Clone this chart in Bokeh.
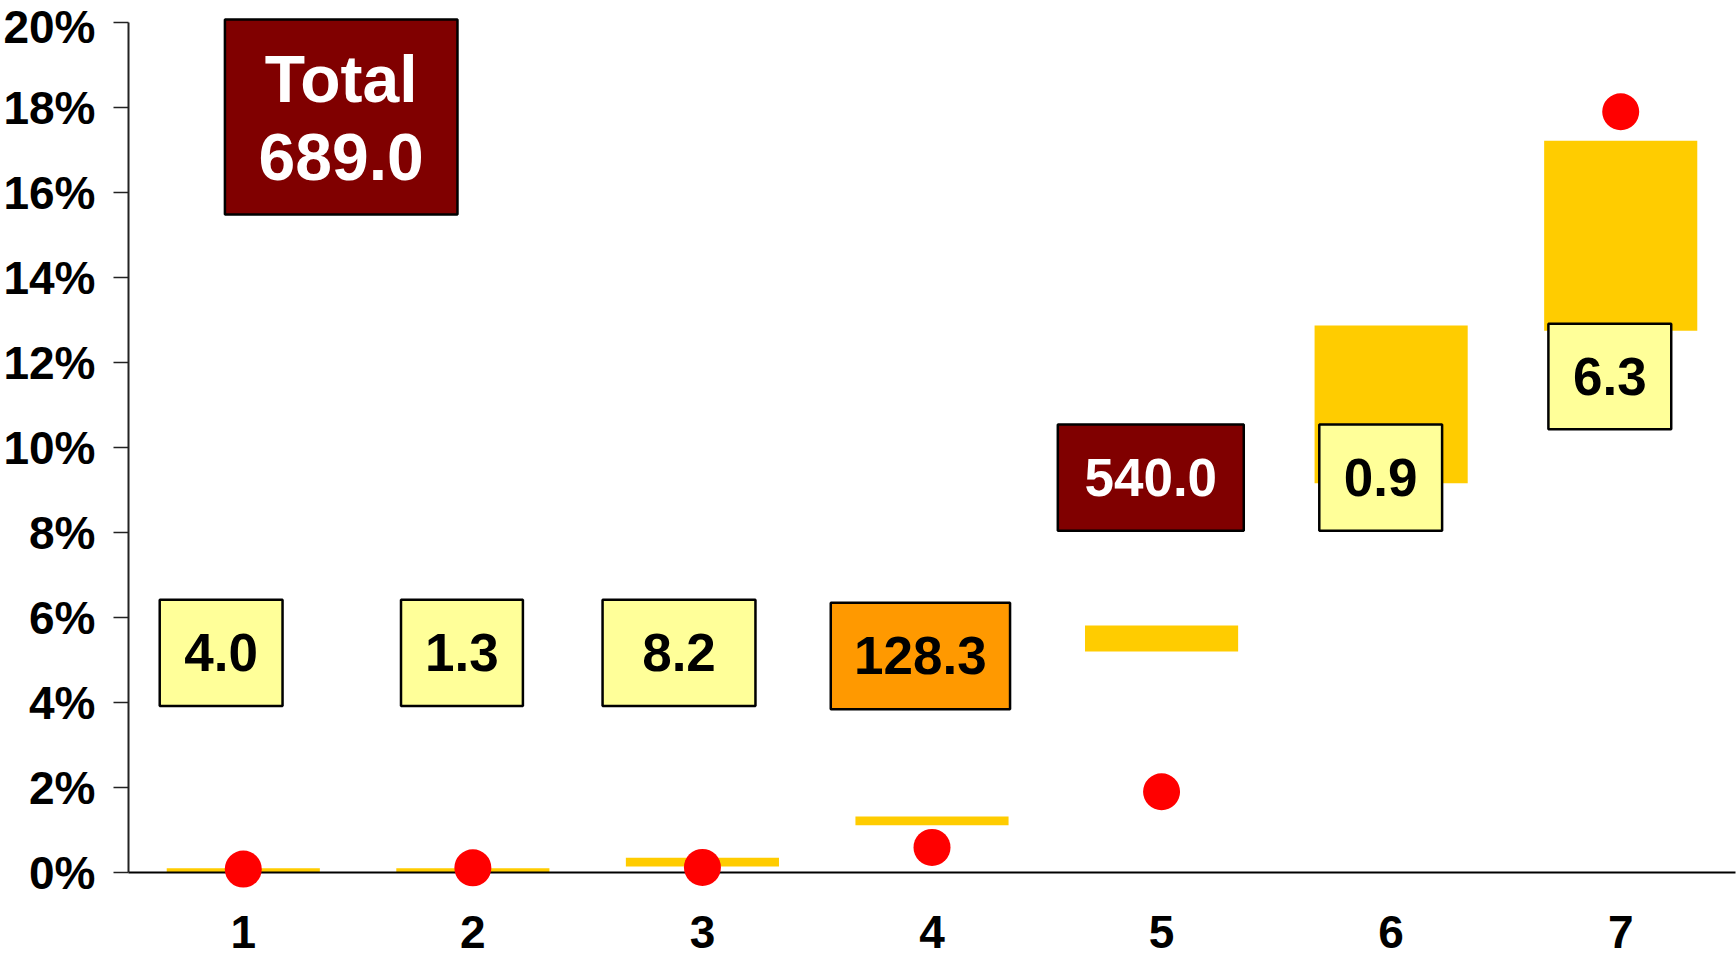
from bokeh.plotting import figure
from bokeh.models import ColumnDataSource, FixedTicker, PrintfTickFormatter, Range1d
from bokeh.core.properties import value
from bokeh.embed import file_html
from bokeh.resources import INLINE

# ---------------- data ----------------
categories = [1, 2, 3, 4, 5, 6, 7]
range_low = [0.0, 0.0, 0.14, 1.11, 5.20, 9.16, 12.75]     # % (yellow bar bottom)
range_high = [0.10, 0.10, 0.35, 1.32, 5.81, 12.87, 17.22]  # % (yellow bar top)
point_values = [0.08, 0.11, 0.12, 0.59, 1.90, None, 17.90]  # % (red dots)
label_values = [4.0, 1.3, 8.2, 128.3, 540.0, 0.9, 6.3]
label_kinds = ["small", "small", "small", "medium", "large", "small", "small"]
total_value = 689.0
y_ticks = [0, 2, 4, 6, 8, 10, 12, 14, 16, 18, 20]

# ---------------- layout of the label boxes (data coordinates) ----------------
box_left = [0.636, 1.687, 2.565, 3.559, 4.548, 5.687, 6.685]
box_right = [1.171, 2.218, 3.231, 4.340, 5.358, 6.222, 7.220]
box_top = [6.42, 6.42, 6.42, 6.35, 10.54, 10.54, 12.91]
box_bottom = [3.92, 3.92, 3.92, 3.84, 8.04, 8.04, 10.43]
total_left, total_right, total_top, total_bottom = 0.920, 1.933, 20.07, 15.48

FONT = value("Liberation Sans")
fill_map = {"small": "#FFFF99", "medium": "#FF9900", "large": "#800000"}
text_map = {"small": "#000000", "medium": "#000000", "large": "#FFFFFF"}

p = figure(width=1736, height=958, output_backend="svg", toolbar_location=None,
           x_range=Range1d(0.5, 7.5), y_range=Range1d(0, 20),
           min_border_left=128, min_border_right=1, min_border_top=22, min_border_bottom=86)
p.outline_line_color = None
p.background_fill_color = "white"

# axes
p.xaxis.ticker = FixedTicker(ticks=categories)
p.xaxis.major_tick_out = 0
p.xaxis.major_tick_in = 0
p.xaxis.minor_tick_line_color = None
p.xaxis.axis_line_color = "#000000"
p.xaxis.axis_line_width = 2
p.xaxis.major_label_standoff = 43
p.xaxis.major_label_text_font = "Liberation Sans"
p.xaxis.major_label_text_font_style = "bold"
p.xaxis.major_label_text_font_size = "46px"
p.xaxis.major_label_text_color = "#000000"

p.yaxis.ticker = FixedTicker(ticks=y_ticks)
p.yaxis.formatter = PrintfTickFormatter(format="%d%%")
p.yaxis.major_tick_out = 15
p.yaxis.major_tick_in = 0
p.yaxis.major_tick_line_width = 1.5
p.yaxis.major_tick_line_color = "#222222"
p.yaxis.minor_tick_line_color = None
p.yaxis.axis_line_color = "#222222"
p.yaxis.axis_line_width = 2
p.yaxis.major_label_standoff = 18
p.yaxis.major_label_text_font = "Liberation Sans"
p.yaxis.major_label_text_font_style = "bold"
p.yaxis.major_label_text_font_size = "46px"
p.yaxis.major_label_text_color = "#000000"

p.xgrid.grid_line_color = None
p.ygrid.ticker = FixedTicker(ticks=[20])
p.ygrid.grid_line_color = "#8c8c8c"
p.ygrid.grid_line_width = 1.5

# yellow range bars
bars = ColumnDataSource(dict(x=categories, bottom=range_low, top=range_high))
p.vbar(x="x", bottom="bottom", top="top", width=0.667, source=bars,
       fill_color="#FFCC00", line_color=None)

# red dots
px = [c for c, v in zip(categories, point_values) if v is not None]
py = [v for v in point_values if v is not None]
dots = p.scatter(px, py, size=37, fill_color="#FF0000", line_color=None)
dots.level = "overlay"

# label boxes
boxes = ColumnDataSource(dict(
    left=box_left, right=box_right, top=box_top, bottom=box_bottom,
    cx=[(a + b) / 2 for a, b in zip(box_left, box_right)],
    cy=[(a + b) / 2 for a, b in zip(box_top, box_bottom)],
    text=["%.1f" % v for v in label_values],
    fill=[fill_map[k] for k in label_kinds],
    tcol=[text_map[k] for k in label_kinds],
))
p.quad(left="left", right="right", top="top", bottom="bottom", source=boxes,
       fill_color="fill", line_color="#000000", line_width=2.5)
p.text(x="cx", y="cy", text="text", source=boxes, text_color="tcol",
       text_font=FONT, text_font_style="bold", text_font_size="53px",
       text_align="center", text_baseline="middle")

# total box
tb = p.quad(left=[total_left], right=[total_right], top=[total_top], bottom=[total_bottom],
            fill_color="#800000", line_color="#000000", line_width=2.5)
tb.level = "overlay"
tcx = (total_left + total_right) / 2
tcy = (total_top + total_bottom) / 2
t1 = p.text(x=[tcx], y=[tcy], text=["Total"], y_offset=-38, text_color="#FFFFFF",
            text_font=FONT, text_font_style="bold", text_font_size="66px",
            text_align="center", text_baseline="middle")
t2 = p.text(x=[tcx], y=[tcy], text=["%.1f" % total_value], y_offset=40, text_color="#FFFFFF",
            text_font=FONT, text_font_style="bold", text_font_size="66px",
            text_align="center", text_baseline="middle")
t1.level = "overlay"
t2.level = "overlay"

open("out.html", "w").write(file_html(p, INLINE))
